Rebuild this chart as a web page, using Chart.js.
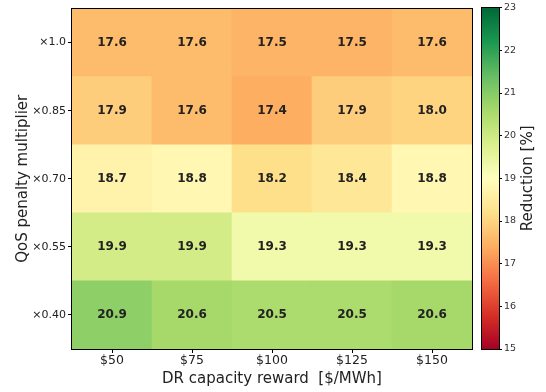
<!DOCTYPE html>
<html>
<head>
<meta charset="utf-8">
<script src="https://cdn.jsdelivr.net/npm/chart.js@4.4.1/dist/chart.umd.min.js"></script>
<style>
  html, body { margin: 0; padding: 0; background: #fff; }
  #wrap { position: relative; width: 546px; height: 392px; }
  #heat { position: absolute; left: 0; top: 0; }
  #cbar { position: absolute; left: 474px; top: 0; }
</style>
</head>
<body>
<div id="wrap">
  <canvas id="heat" width="546" height="392"></canvas>
  <canvas id="cbar" width="72" height="392"></canvas>
</div>
<script>
// DR capacity reward levels (x) and QoS penalty multipliers (y, bottom to top)
const rewardLabels = ['$50', '$75', '$100', '$125', '$150'];
const penaltyLabels = ['×0.40', '×0.55', '×0.70', '×0.85', '×1.0'];

// Cost reduction [%] per penalty multiplier, one value per reward level
const reductionX040 = [20.9, 20.6, 20.5, 20.5, 20.6];
const reductionX055 = [19.9, 19.9, 19.3, 19.3, 19.3];
const reductionX070 = [18.7, 18.8, 18.2, 18.4, 18.8];
const reductionX085 = [17.9, 17.6, 17.4, 17.9, 18.0];
const reductionX100 = [17.6, 17.6, 17.5, 17.5, 17.6];
const reductionRows = [reductionX040, reductionX055, reductionX070, reductionX085, reductionX100];

// Colour scale limits and colour-bar ticks
const vmin = 15, vmax = 23;
const colorbarTicks = [15, 16, 17, 18, 19, 20, 21, 22, 23];

// RdYlGn palette stops
const rdylgn = ['#a50026', '#d73027', '#f46d43', '#fdae61', '#fee08b', '#ffffbf',
                '#d9ef8b', '#a6d96a', '#66bd63', '#1a9850', '#006837'];

function hexToRgb(h) {
  return [parseInt(h.slice(1, 3), 16), parseInt(h.slice(3, 5), 16), parseInt(h.slice(5, 7), 16)];
}
function colorFor(v) {
  let t = (v - vmin) / (vmax - vmin);
  t = Math.max(0, Math.min(1, t));
  const pos = t * (rdylgn.length - 1);
  const i = Math.min(Math.floor(pos), rdylgn.length - 2);
  const f = pos - i;
  const a = hexToRgb(rdylgn[i]), b = hexToRgb(rdylgn[i + 1]);
  const c = a.map((x, k) => Math.round(x + (b[k] - x) * f));
  return `rgb(${c[0]},${c[1]},${c[2]})`;
}

const FONT = "'DejaVu Sans', sans-serif";
const INK = '#222';

// Writes each cell's value in its centre
const cellLabels = {
  id: 'cellLabels',
  afterDatasetsDraw(chart) {
    const ctx = chart.ctx;
    ctx.save();
    ctx.font = `bold 12px ${FONT}`;
    ctx.fillStyle = INK;
    ctx.textAlign = 'center';
    ctx.textBaseline = 'middle';
    chart.data.datasets.forEach((ds, di) => {
      const meta = chart.getDatasetMeta(di);
      meta.data.forEach((el, i) => {
        ctx.fillText(ds.values[i].toFixed(1), el.x, (el.y + el.base) / 2);
      });
    });
    ctx.restore();
  }
};

// Outline around the plotting area
const frame = {
  id: 'frame',
  afterDraw(chart) {
    const { ctx, chartArea: a } = chart;
    ctx.save();
    ctx.strokeStyle = '#000';
    ctx.lineWidth = 1;
    ctx.strokeRect(Math.round(a.left) - 0.5, Math.round(a.top) - 0.5,
                   Math.round(a.right - a.left) + 1, Math.round(a.bottom - a.top) + 1);
    ctx.restore();
  }
};

new Chart(document.getElementById('heat'), {
  type: 'bar',
  data: {
    labels: rewardLabels,
    datasets: reductionRows.map((row, r) => ({
      label: penaltyLabels[r],
      values: row,
      data: row.map(() => 1),
      backgroundColor: row.map(colorFor),
      borderWidth: 0,
      barPercentage: 1,
      categoryPercentage: 1
    }))
  },
  options: {
    responsive: false,
    devicePixelRatio: 1,
    animation: false,
    layout: { padding: { top: 5, right: 74, left: 0, bottom: 0 } },
    plugins: { legend: { display: false }, tooltip: { enabled: false } },
    scales: {
      x: {
        stacked: true,
        grid: { offset: false, drawOnChartArea: false, color: '#000', tickLength: 4 },
        border: { display: false },
        ticks: { color: INK, font: { family: FONT, size: 12.5 }, padding: 0, maxRotation: 0 },
        title: { display: true, text: 'DR capacity reward  [$/MWh]', color: INK,
                 font: { family: FONT, size: 15 }, padding: { top: 0, bottom: 4 } },
        afterFit(s) { s.height = 43; }
      },
      y: {
        stacked: true,
        min: 0, max: penaltyLabels.length,
        afterBuildTicks(s) { s.ticks = penaltyLabels.map((_, i) => ({ value: i + 0.5 })); },
        grid: { drawOnChartArea: false, color: '#000', tickLength: 4 },
        border: { display: false },
        ticks: { color: INK, font: { family: FONT, size: 11 }, padding: 2,
                 callback: v => penaltyLabels[Math.floor(v)] },
        title: { display: true, text: 'QoS penalty multiplier', color: INK,
                 font: { family: FONT, size: 15 }, padding: { top: 14, bottom: 0 } },
        afterFit(s) { s.width = 72; }
      }
    }
  },
  plugins: [cellLabels, frame]
});

// Colour bar: one floating bar spanning the colour range, filled with the palette
const cbarTitle = {
  id: 'cbarTitle',
  afterDraw(chart) {
    const { ctx, chartArea: a } = chart;
    ctx.save();
    ctx.font = `15px ${FONT}`;
    ctx.fillStyle = INK;
    ctx.textAlign = 'center';
    ctx.textBaseline = 'middle';
    ctx.translate(54, (a.top + a.bottom) / 2);
    ctx.rotate(-Math.PI / 2);
    ctx.fillText('Reduction [%]', 0, 0);
    ctx.restore();
  }
};

new Chart(document.getElementById('cbar'), {
  type: 'bar',
  data: {
    labels: ['Reduction'],
    datasets: [{
      data: [[vmin, vmax]],
      backgroundColor(c) {
        const a = c.chart.chartArea;
        if (!a) return rdylgn[5];
        const g = c.chart.ctx.createLinearGradient(0, a.bottom, 0, a.top);
        rdylgn.forEach((col, i) => g.addColorStop(i / (rdylgn.length - 1), col));
        return g;
      },
      borderWidth: 0,
      barPercentage: 1,
      categoryPercentage: 1
    }]
  },
  options: {
    responsive: false,
    devicePixelRatio: 1,
    animation: false,
    layout: { padding: { top: 5, left: 8, right: 0, bottom: 43 } },
    plugins: { legend: { display: false }, tooltip: { enabled: false } },
    scales: {
      x: { display: false },
      y: {
        position: 'right',
        min: vmin, max: vmax,
        afterBuildTicks(s) { s.ticks = colorbarTicks.map(v => ({ value: v })); },
        grid: { drawOnChartArea: false, color: '#000', tickLength: 3 },
        border: { display: false },
        ticks: { color: '#333', font: { family: FONT, size: 9.5 }, padding: 2 },
        afterFit(s) { s.width = 47; }
      }
    }
  },
  plugins: [frame, cbarTitle]
});
</script>
</body>
</html>
